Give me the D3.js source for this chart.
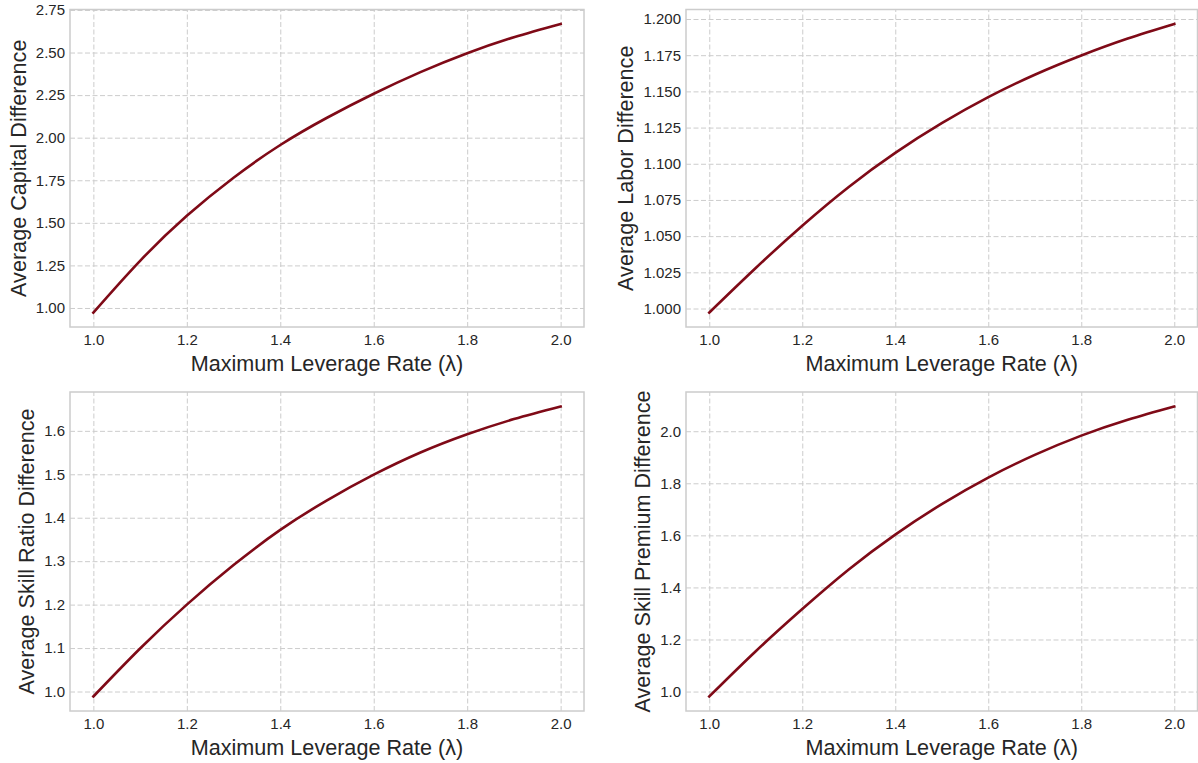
<!DOCTYPE html>
<html>
<head>
<meta charset="utf-8">
<script src="https://cdn.jsdelivr.net/npm/d3@7"></script>
<style>
  html, body { margin: 0; padding: 0; background: #fff; }
  svg { display: block; font-family: Arial, "Liberation Sans", sans-serif; }
</style>
</head>
<body>
<div id="chart"></div>
<script>
"use strict";

// leverage rate on the x axis
var lambda = [1.0, 1.1, 1.2, 1.3, 1.4, 1.5, 1.6, 1.7, 1.8, 1.9, 2.0];

var capitalDiff = [0.973, 1.277, 1.541, 1.765, 1.957, 2.117, 2.258, 2.385, 2.496, 2.590, 2.668];
var laborDiff = [0.9972, 1.0280, 1.0572, 1.0840, 1.1075, 1.1280, 1.1460, 1.1615, 1.1748, 1.1865, 1.1966];
var skillRatioDiff = [0.9885, 1.099, 1.200, 1.291, 1.372, 1.440, 1.499, 1.550, 1.592, 1.627, 1.656];
var skillPremiumDiff = [0.981, 1.155, 1.317, 1.469, 1.603, 1.720, 1.822, 1.909, 1.983, 2.044, 2.095];

var xTicks = [1.0, 1.2, 1.4, 1.6, 1.8, 2.0];
var capitalTicks = [1.00, 1.25, 1.50, 1.75, 2.00, 2.25, 2.50, 2.75];
var laborTicks = [1.000, 1.025, 1.050, 1.075, 1.100, 1.125, 1.150, 1.175, 1.200];
var skillRatioTicks = [1.0, 1.1, 1.2, 1.3, 1.4, 1.5, 1.6];
var skillPremiumTicks = [1.0, 1.2, 1.4, 1.6, 1.8, 2.0];

var xLabel = "Maximum Leverage Rate (\u03bb)";

var panels = [
  {values: capitalDiff, ticks: capitalTicks, fmt: ".2f", label: "Average Capital Difference",
   box: {left: 70, right: 584, top: 9.5, bottom: 327}},
  {values: laborDiff, ticks: laborTicks, fmt: ".3f", label: "Average Labor Difference",
   box: {left: 686, right: 1197.5, top: 9.5, bottom: 327}},
  {values: skillRatioDiff, ticks: skillRatioTicks, fmt: ".1f", label: "Average Skill Ratio Difference",
   box: {left: 70, right: 584, top: 392, bottom: 711}},
  {values: skillPremiumDiff, ticks: skillPremiumTicks, fmt: ".1f", label: "Average Skill Premium Difference",
   box: {left: 686, right: 1197.5, top: 392, bottom: 711}}
];

var W = 1198, H = 763;
var gridColor = "#cccccc", textColor = "#262626", lineColor = "#7f0a17";

var svg = d3.select("#chart").append("svg")
  .attr("width", W)
  .attr("height", H);

function pad(ext) {
  var m = (ext[1] - ext[0]) * 0.05;
  return [ext[0] - m, ext[1] + m];
}

function styleGrid(s) {
  s.select(".domain").remove();
  s.selectAll("line")
    .attr("stroke", gridColor)
    .attr("stroke-width", 1)
    .attr("stroke-dasharray", "5,2.5");
}

panels.forEach(function(p) {
  var b = p.box;
  var x = d3.scaleLinear().domain(pad(d3.extent(lambda))).range([b.left, b.right]);
  var y = d3.scaleLinear().domain(pad(d3.extent(p.values))).range([b.bottom, b.top]);
  var g = svg.append("g");

  // grid
  g.append("g")
    .attr("transform", "translate(0," + b.bottom + ")")
    .call(d3.axisBottom(x).tickValues(xTicks).tickSize(-(b.bottom - b.top)).tickFormat(""))
    .call(styleGrid);
  g.append("g")
    .attr("transform", "translate(" + b.left + ",0)")
    .call(d3.axisLeft(y).tickValues(p.ticks).tickSize(-(b.right - b.left)).tickFormat(""))
    .call(styleGrid);

  // frame
  g.append("rect")
    .attr("x", b.left).attr("y", b.top)
    .attr("width", b.right - b.left).attr("height", b.bottom - b.top)
    .attr("fill", "none").attr("stroke", gridColor).attr("stroke-width", 1.5);

  // tick labels
  var xt = g.append("g")
    .attr("transform", "translate(0," + b.bottom + ")")
    .call(d3.axisBottom(x).tickValues(xTicks).tickSize(0).tickPadding(0).tickFormat(d3.format(".1f")));
  xt.select(".domain").remove();
  xt.selectAll("text").attr("dy", null).attr("y", 18)
    .attr("font-size", 15).attr("fill", textColor).attr("font-family", "Arial, 'Liberation Sans', sans-serif");

  var yt = g.append("g")
    .attr("transform", "translate(" + b.left + ",0)")
    .call(d3.axisLeft(y).tickValues(p.ticks).tickSize(0).tickPadding(5).tickFormat(d3.format(p.fmt)));
  yt.select(".domain").remove();
  yt.selectAll("text")
    .attr("font-size", 15).attr("fill", textColor).attr("font-family", "Arial, 'Liberation Sans', sans-serif");

  var tw = d3.max(yt.selectAll("text").nodes(), function(n) { return n.getBBox().width; });

  // axis labels
  g.append("text")
    .attr("x", (b.left + b.right) / 2)
    .attr("y", b.bottom + 44)
    .attr("text-anchor", "middle")
    .attr("font-size", 21.6)
    .attr("fill", textColor)
    .text(xLabel);

  var lx = b.left - 5 - tw - 10;
  g.append("text")
    .attr("transform", "translate(" + lx + "," + ((b.top + b.bottom) / 2) + ") rotate(-90)")
    .attr("text-anchor", "middle")
    .attr("font-size", 21.6)
    .attr("fill", textColor)
    .text(p.label);

  // curve
  var line = d3.line()
    .x(function(d, i) { return x(lambda[i]); })
    .y(function(d) { return y(d); })
    .curve(d3.curveNatural);

  g.append("path")
    .datum(p.values)
    .attr("d", line)
    .attr("fill", "none")
    .attr("stroke", lineColor)
    .attr("stroke-width", 2.6)
    .attr("stroke-linecap", "square");
});
</script>
</body>
</html>
